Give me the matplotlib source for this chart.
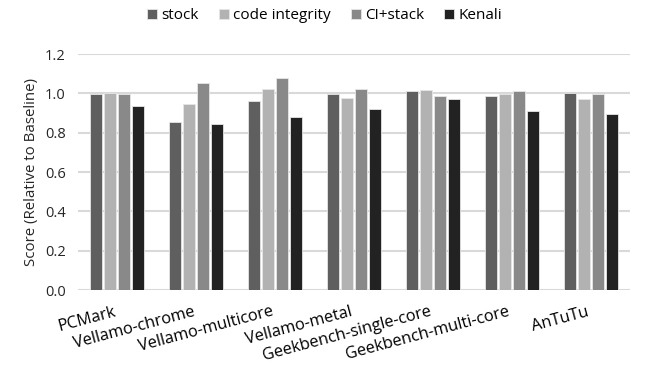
import matplotlib
matplotlib.use("Agg")
import matplotlib.pyplot as plt
import numpy as np

categories = ["PCMark", "Vellamo-chrome", "Vellamo-multicore", "Vellamo-metal",
              "Geekbench-single-core", "Geekbench-multi-core", "AnTuTu"]
series_names = ["stock", "code integrity", "CI+stack", "Kenali"]
stock = [0.995, 0.854, 0.961, 0.995, 1.010, 0.986, 1.003]
code_integrity = [1.003, 0.946, 1.020, 0.978, 1.019, 0.995, 0.969]
ci_stack = [0.995, 1.053, 1.078, 1.020, 0.986, 1.010, 0.995]
kenali = [0.936, 0.844, 0.878, 0.919, 0.969, 0.912, 0.893]
yticks = [0.0, 0.2, 0.4, 0.6, 0.8, 1.0, 1.2]

colors = ["#5f5f5f", "#b2b2b2", "#898989", "#222222"]
font = "Open Sans"
plt.rcParams['font.family'] = [font, 'DejaVu Sans']

fig = plt.figure(figsize=(6.57, 3.75), dpi=100)
ax = fig.add_axes([78/657, 1-290/375, (630-78)/657, (290-54)/375])

x = np.arange(len(categories))
bw = 0.152
step = 0.177
all_series = [stock, code_integrity, ci_stack, kenali]
handles = []
for i, (vals, c, name) in enumerate(zip(all_series, colors, series_names)):
    h = ax.bar(x + (i - 1.5) * step, vals, width=bw, color=c, edgecolor='#e6e6e6',
               linewidth=0.6, label=name, zorder=3)
    handles.append(h)

ax.set_xlim(-0.5, len(categories) - 0.5)
ax.set_ylim(0, 1.2)
ax.set_yticks(yticks)
ax.set_yticklabels([f"{t:.1f}" for t in yticks], fontsize=10.5, color="#262626")
ax.yaxis.grid(True, color="#d9d9d9", linewidth=1.5, zorder=0)
ax.set_axisbelow(True)
for s in ax.spines.values():
    s.set_visible(False)
ax.tick_params(axis='y', length=0, pad=9)
ax.tick_params(axis='x', length=0, pad=10)
ax.set_xticks(x)
ax.set_xticklabels(categories, rotation=15, ha='right', va='top', fontsize=11.8, color="#000000")
ax.set_ylabel("Score (Relative to Baseline)", fontsize=10.8, color="#262626", labelpad=4)

fig.legend(handles=handles, labels=series_names, loc='center', bbox_to_anchor=(0.494, 0.958),
           ncol=4, frameon=False, fontsize=11, handlelength=0.65, handleheight=0.65,
           handletextpad=0.3, columnspacing=1.3)

fig.savefig("out.png", dpi=100)
